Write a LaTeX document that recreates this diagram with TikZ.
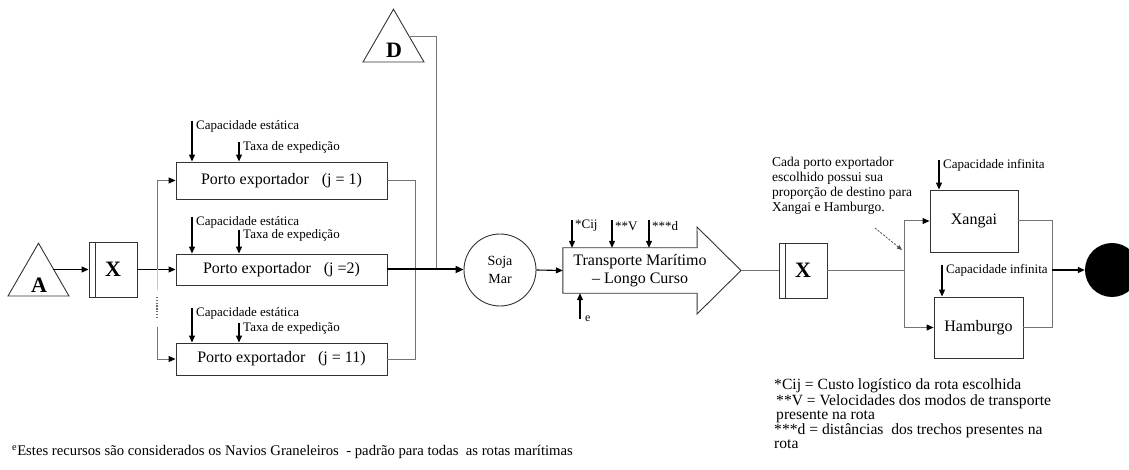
\documentclass[tikz,border=0pt]{standalone}
\usepackage{fontspec}
\setmainfont{Liberation Serif}
\usetikzlibrary{arrows.meta,shapes.geometric}
\begin{document}
\begin{tikzpicture}[x=1pt,y=-1pt,
  every node/.style={inner sep=0pt},
  box/.style={draw=black!80, line width=0.9pt, font=\fontsize{16}{19}\selectfont},
  port/.style={box, minimum width=211pt},
  xbox/.style={box, font=\fontsize{22}{24}\selectfont\bfseries, minimum width=48pt, minimum height=55pt},
  small/.style={font=\fontsize{13}{15}\selectfont, anchor=west, inner xsep=4pt},
  big/.style={font=\fontsize{22}{24}\selectfont\bfseries},
  tri/.style={regular polygon, regular polygon sides=3, draw=black!80, line width=0.9pt, minimum size=70.4pt},
  link/.style={draw=black!55, line width=1pt},
  arr/.style={draw=black, line width=1.1pt, -{Triangle[length=7pt,width=6pt]}},
  garr/.style={link, -{Triangle[length=7pt,width=6pt,color=black]}},
]
\useasboundingbox (0,0) rectangle (1129,470);

% source and destination triangles
\node[tri] (D) at (393.5,44.4) {};
\node[big] (Dl) at (394,50) {D};
\coordinate (Dout) at (409,37);
\node[tri] (A) at (38.5,278.4) {};
\node[big] (Al) at (39,285) {A};
\coordinate (Aout) at (53,269.5);

% first choice block
\node[xbox] (X1) at (113,269.5) {X};
\draw[box] ([xshift=7pt]X1.north west) -- ([xshift=7pt]X1.south west);

% export ports
\node[port, minimum height=37pt] (P1) at (281.5,180.5) {Porto exportador\hspace{0.8em}(j = 1)};
\node[port, minimum height=31pt] (P2) at (281.5,269.5) {Porto exportador\hspace{0.8em}(j =2)};
\node[port, minimum height=32pt] (P3) at (281.5,359) {Porto exportador\hspace{0.8em}(j = 11)};

% port resources
\node[small] (c1) at (192,126) {Capacidade estática};
\node[small] (t1) at (239,147) {Taxa de expedição};
\node[small] (c2) at (192,222) {Capacidade estática};
\node[small] (t2) at (239,235) {Taxa de expedição};
\node[small] (c3) at (192,313) {Capacidade estática};
\node[small] (t3) at (239,328) {Taxa de expedição};
\draw[arr] ([yshift=5pt]c1.west) -- (c1.west |- P1.north);
\draw[arr] ([yshift=5pt]t1.west) -- (t1.west |- P1.north);
\draw[arr] ([yshift=5pt]c2.west) -- (c2.west |- P2.north);
\draw[arr] ([yshift=5pt]t2.west) -- (t2.west |- P2.north);
\draw[arr] ([yshift=5pt]c3.west) -- (c3.west |- P3.north);
\draw[arr] ([yshift=5pt]t3.west) -- (t3.west |- P3.north);

% flows into the ports
\draw[arr] (Aout) -- (X1.west);
\draw[arr] (X1.east) -- (P2.west);
\coordinate (Jx) at (157,269.5);
\coordinate (fa) at (157,290);
\coordinate (fb) at (157,297);
\coordinate (fc) at (157,317);
\coordinate (fd) at (157,327);
\draw[garr] (Jx) |- (P1.west);
\draw[line width=1pt, draw={rgb,255:red,185;green,205;blue,222}] (Jx) -- (fa);
\draw[draw=black!60, line width=1.3pt, dash pattern=on 1.4pt off 1.4pt] (fb) -- (fc);
\draw[garr] (fd) |- (P3.west);

% flows out of the ports
\coordinate (M1) at (415,269.5);
\coordinate (Md) at (436,269.5);
\draw[link] (P1.east) -| (M1);
\draw[link] (P3.east) -| (M1);
\draw[link] (Dout) -| (Md);

\node[circle, draw=black!80, line width=0.9pt, minimum size=72pt, align=center,
      font=\fontsize{14}{18}\selectfont] (soja) at (500,270) {Soja\\Mar};
\draw[draw=black, line width=2pt, -{Triangle[length=8pt,width=7pt]}] (P2.east) -- (P2.east -| soja.west);

% sea transport arrow
\node[minimum width=134pt, minimum height=45pt] (T) at (630,270.5) {};
\coordinate (Ttip) at (741,270.5);
\draw[box] (T.north west) -- (T.north east) -- (697,227) -- (Ttip) -- (697,314)
  -- (T.south east) -- (T.south west) -- cycle;
\node[align=center, font=\fontsize{16}{18}\selectfont] (Tl) at (640,271) {Transporte Marítimo\\– Longo Curso};
\draw[arr] (soja.east) -- (T.west);

\node[small, inner xsep=3pt] (cij) at (572,226) {*Cij};
\node[small, inner xsep=3pt] (vv) at (612,226) {**V};
\node[small, inner xsep=3pt] (dd) at (649,226) {***d};
\draw[arr] ([yshift=6pt]cij.west) -- (cij.west |- T.north);
\draw[arr] ([yshift=6pt]vv.west) -- (vv.west |- T.north);
\draw[arr] ([yshift=6pt]dd.west) -- (dd.west |- T.north);
\node[font=\fontsize{12}{14}\selectfont, anchor=west, inner xsep=5pt] (e) at (580,319) {e};
\draw[arr] (e.west) -- (e.west |- T.south);

% destination choice
\node[xbox] (X2) at (803,270.5) {X};
\draw[box] ([xshift=7pt]X2.north west) -- ([xshift=7pt]X2.south west);
\draw[link] (Ttip) -- (X2.west);

\node[box, minimum width=88pt, minimum height=62pt] (Xg) at (974,221) {Xangai};
\node[box, minimum width=89pt, minimum height=61pt] (Hb) at (978.5,327.5) {Hamburgo};
\coordinate (S) at (904,270.5);
\coordinate (E) at (1052,270);
\draw[link] (X2.east) -- (S);
\draw[garr] (S) |- (Xg.west);
\draw[garr] (S) |- (Hb.west);
\draw[link] (Xg.east) -| (E);
\draw[link] (Hb.east) -| (E);
\node[circle, fill=black, minimum size=54pt] (ball) at (1112,270) {};
\draw[arr] (E) -- (ball.west);

\node[small] (ci1) at (939,165) {Capacidade infinita};
\node[small] (ci2) at (942,270) {Capacidade infinita};
\draw[arr] ([yshift=5pt]ci1.west) -- (ci1.west |- Xg.north);
\draw[arr] ([yshift=5pt]ci2.west) -- (ci2.west |- Hb.north);

% notes
\node[anchor=north west, align=left, font=\fontsize{13.5}{15}\selectfont] (note) at (772,157)
  {Cada porto exportador\\escolhido possui sua\\proporção de destino para\\Xangai e Hamburgo.};
\coordinate (na) at (875,228);
\coordinate (nb) at (902,250);
\draw[draw=black!70, line width=0.8pt, dash pattern=on 2pt off 1.5pt, -{Triangle[length=5pt,width=4pt]}] (na) -- (nb);

\node[anchor=north west, align=left, font=\fontsize{15.6}{14}\selectfont] (legend) at (774,378)
  {*Cij = Custo logístico da rota escolhida\\[1.5pt]
   \hspace{2pt}**V = Velocidades dos modos de transporte\\
   \hspace{2pt}presente na rota\\
   ***d = distâncias\ \ dos trechos presentes na\\
   rota};

\node[anchor=west, font=\fontsize{14.7}{16}\selectfont] (foot) at (12,452)
  {\textsuperscript{e}Estes recursos são considerados os Navios Graneleiros\ \ - padrão para todas\ \ as rotas marítimas};
\end{tikzpicture}
\end{document}
